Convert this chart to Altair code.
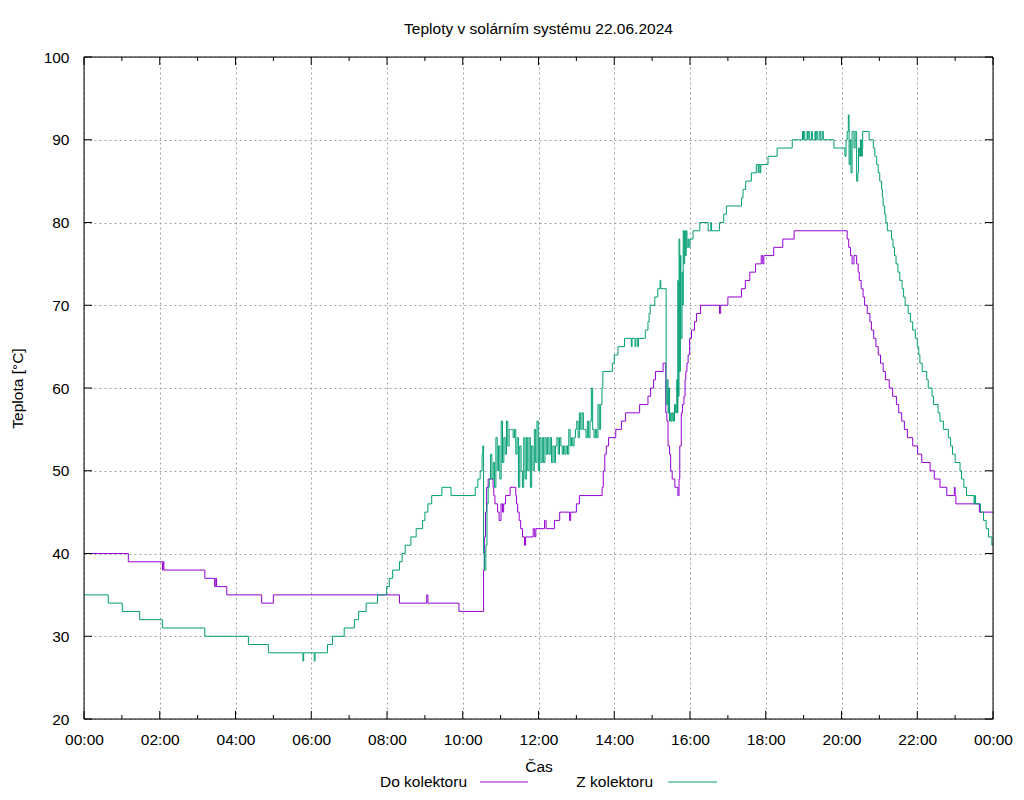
import altair as alt
import pandas as pd

title_text = "Teploty v solárním systému 22.06.2024"
y_title = "Teplota [°C]"
x_title = "Čas"
series_names = ["Do kolektoru", "Z kolektoru"]
series_colors = ["#9400d3", "#009e73"]

# Do kolektoru (hours, °C)
do_t = [0.00, 1.17, 2.07, 2.09, 2.11, 3.19, 3.45, 3.48, 3.50, 3.77, 4.69, 5.00, 8.33, 9.05, 9.08, 9.90,
        10.55, 10.57, 10.60, 10.63, 10.67, 10.80, 10.82, 10.85, 10.92, 10.96, 11.01, 11.05, 11.08, 11.13,
        11.25, 11.40, 11.42, 11.45, 11.49, 11.53, 11.58, 11.63, 11.66, 11.86, 11.90, 11.93, 12.16, 12.20,
        12.42, 12.56, 12.82, 12.85, 13.00, 13.08, 13.68, 13.71, 13.75, 13.79, 13.85, 14.04, 14.19, 14.30,
        14.67, 14.89, 14.96, 15.04, 15.09, 15.29, 15.36, 15.39, 15.42, 15.46, 15.49, 15.53, 15.60, 15.68,
        15.71, 15.73, 15.77, 15.80, 15.84, 15.87, 15.89, 15.92, 15.95, 15.99, 16.04, 16.12, 16.17, 16.28,
        16.78, 16.81, 17.00, 17.36, 17.46, 17.58, 17.73, 17.88, 17.92, 17.95, 18.21, 18.45, 18.75, 20.15,
        20.19, 20.24, 20.28, 20.33, 20.40, 20.44, 20.47, 20.52, 20.57, 20.61, 20.68, 20.75, 20.79, 20.85,
        20.91, 20.97, 21.03, 21.10, 21.16, 21.26, 21.35, 21.45, 21.51, 21.59, 21.66, 21.74, 21.88, 22.01,
        22.12, 22.34, 22.45, 22.60, 22.78, 22.98, 23.00, 23.02, 23.64, 23.92, 24.00]
do_v = [40, 39, 38, 39, 38, 37, 36, 37, 36, 35, 34, 35, 34, 35, 34, 33,
        38, 42, 45, 48, 49, 48, 47, 46, 45, 44, 46, 45, 46, 47,
        48, 47, 46, 45, 44, 43, 42, 41, 42, 43, 42, 43, 44, 43,
        44, 45, 44, 45, 46, 47, 48, 50, 52, 53, 54, 55, 56, 57,
        58, 59, 60, 61, 62, 63, 57, 56, 53, 52, 50, 49, 48, 47,
        49, 53, 57, 58, 59, 61, 62, 63, 64, 66, 67, 68, 69, 70,
        69, 70, 71, 72, 73, 74, 75, 76, 75, 76, 77, 78, 79, 78,
        77, 76, 75, 76, 75, 74, 73, 72, 71, 70, 69, 68, 67, 66,
        65, 64, 63, 62, 61, 60, 59, 58, 57, 56, 55, 54, 53, 52,
        51, 50, 49, 48, 47, 48, 47, 46, 45, 45, 45]

# Z kolektoru (hours, °C)
z_t = [0.00, 0.64, 1.01, 1.47, 2.07, 3.19, 4.34, 4.87, 5.78, 5.80, 6.08, 6.10, 6.43, 6.56, 6.87, 7.14,
       7.25, 7.45, 7.75, 7.99, 8.06, 8.15, 8.33, 8.40, 8.48, 8.63, 8.77, 8.94, 9.00, 9.08, 9.18, 9.45,
       9.69, 10.33, 10.40, 10.46, 10.51, 10.53, 10.55, 10.57, 10.61, 10.64, 10.67,
       10.70, 10.735, 10.77, 10.805, 10.84, 10.875, 10.91, 10.945, 10.98, 11.015,
       11.05, 11.085, 11.12, 11.155, 11.19, 11.225, 11.26, 11.295, 11.33, 11.365,
       11.40, 11.435, 11.47, 11.505, 11.54, 11.575, 11.61, 11.645, 11.68, 11.715,
       11.75, 11.785, 11.82, 11.855, 11.89, 11.925, 11.96, 11.995, 12.03, 12.065,
       12.10, 12.135, 12.17, 12.205, 12.24, 12.275, 12.31, 12.345, 12.38, 12.415,
       12.45, 12.485, 12.52, 12.555, 12.59, 12.625, 12.66, 12.695, 12.73, 12.765,
       12.80, 12.835, 12.87, 12.905, 12.94, 12.975, 13.01, 13.045, 13.08, 13.115,
       13.15, 13.185, 13.22, 13.255, 13.29, 13.325, 13.36, 13.395, 13.43, 13.465,
       13.50, 13.535, 13.57, 13.605, 13.64, 13.675,
       13.70, 13.95, 14.00, 14.10, 14.27, 14.45, 14.47, 14.55, 14.57, 14.62, 14.64, 14.82, 14.89, 14.92,
       14.95, 15.07, 15.15, 15.21, 15.23, 15.37, 15.40, 15.42, 15.44, 15.46, 15.48, 15.50, 15.53, 15.56,
       15.59, 15.62, 15.65, 15.67, 15.68, 15.69, 15.71, 15.73, 15.745, 15.76, 15.79, 15.81, 15.82, 15.84,
       15.86, 15.875, 15.90, 15.92, 15.95, 15.97, 16.00, 16.08, 16.26, 16.48, 16.55, 16.57, 16.78, 16.89,
       16.96, 17.36, 17.40, 17.47, 17.62, 17.75, 17.80, 17.82, 17.85, 17.87, 18.06, 18.30, 18.70,
       18.97, 18.99, 19.00, 19.03, 19.09, 19.11, 19.12, 19.16, 19.21, 19.23, 19.25, 19.30, 19.32, 19.33,
       19.36, 19.41, 19.45, 19.49, 19.52, 19.80, 20.09, 20.12, 20.15, 20.18, 20.20, 20.23, 20.25, 20.28,
       20.33, 20.36, 20.40, 20.43, 20.45, 20.48, 20.50, 20.53, 20.55, 20.56, 20.73, 20.84, 20.88, 20.93,
       20.97, 21.01, 21.06, 21.08, 21.10, 21.14, 21.17, 21.21, 21.32, 21.36, 21.40, 21.44, 21.49, 21.54,
       21.60, 21.64, 21.68, 21.76, 21.82, 21.88, 21.95, 22.00, 22.04, 22.07, 22.13, 22.25, 22.29, 22.39,
       22.43, 22.55, 22.60, 22.69, 22.82, 22.88, 22.93, 23.00, 23.13, 23.17, 23.23, 23.30, 23.50, 23.52,
       23.54, 23.67, 23.75, 23.82, 23.88, 23.97, 24.00]
z_v = [35, 34, 33, 32, 31, 30, 29, 28, 27, 28, 27, 28, 29, 30, 31, 32,
       33, 34, 35, 36, 37, 38, 39, 40, 41, 42, 43, 44, 45, 46, 47, 48,
       47, 48, 49, 50, 52, 53, 40, 38, 41, 46, 48,
       49, 52, 49, 51, 48, 54, 50, 53, 49, 56,
       51, 54, 52, 56, 53, 55, 55, 55, 54, 55,
       52, 54, 48, 53, 50, 48, 54, 49, 54, 50,
       54, 48, 53, 50, 55, 51, 56, 50, 54, 51,
       54, 51, 54, 52, 54, 52, 54, 51, 53, 51,
       53, 54, 52, 54, 53, 52, 53, 52, 53, 52,
       55, 53, 54, 53, 54, 55, 56, 54, 57, 55,
       57, 55, 55, 54, 56, 54, 56, 60, 55, 54,
       55, 54, 58, 55, 58, 60,
       62, 63, 64, 65, 66, 65, 66, 65, 66, 65, 66, 67, 68, 69,
       70, 71, 72, 73, 72, 58, 61, 57, 60, 56, 57, 56, 57, 56,
       58, 57, 61, 57, 73, 59, 78, 62, 76, 66, 74, 70, 79, 75,
       79, 76, 79, 77, 78, 77, 78, 79, 80, 79, 80, 79, 80, 81,
       82, 83, 84, 85, 86, 87, 86, 87, 86, 87, 88, 89, 90,
       91, 90, 91, 90, 91, 90, 91, 90, 91, 90, 90, 91, 90, 91,
       90, 91, 90, 91, 90, 89, 88, 90, 91, 93, 87, 90, 86, 91,
       89, 91, 85, 86, 89, 88, 90, 88, 89, 91, 90, 89, 88, 87,
       86, 85, 84, 83, 82, 81, 80, 79, 78, 77, 76, 75, 74, 73,
       72, 71, 70, 69, 68, 67, 66, 65, 64, 63, 62, 61, 60, 59,
       58, 57, 56, 55, 54, 53, 52, 51, 50, 49, 48, 47, 46, 47,
       46, 45, 44, 43, 42, 41, 41]

x_major = [0, 2, 4, 6, 8, 10, 12, 14, 16, 18, 20, 22, 24]
x_minor = [1, 3, 5, 7, 9, 11, 13, 15, 17, 19, 21, 23]
y_ticks = [20, 30, 40, 50, 60, 70, 80, 90, 100]

W, H = 909, 662
FONT = "Liberation Sans"
FS = 15.5
GRID = "#a0a0a0"

xscale = alt.Scale(domain=[0, 24], nice=False, zero=False)
yscale = alt.Scale(domain=[20, 100], nice=False, zero=False)

x_axis = alt.Axis(values=x_major, grid=True, gridColor=GRID, gridDash=[2, 3], gridWidth=1,
                  ticks=False, tickSize=0, domain=False, labelPadding=13, labelFont=FONT,
                  labelFontSize=FS, labelColor="black", labelFlush=False, labelOverlap=False,
                  labelExpr="(datum.value % 24 < 10 ? '0' : '') + (datum.value % 24) + ':00'",
                  title=x_title, titleFont=FONT, titleFontSize=FS, titleFontWeight="normal",
                  titleColor="black", titleX=W / 2, titleY=52, titleBaseline="alphabetic",
                  titleAlign="center")
y_axis = alt.Axis(values=y_ticks, grid=True, gridColor=GRID, gridDash=[2, 3], gridWidth=1,
                  ticks=False, tickSize=0, domain=False, labelPadding=15, labelFont=FONT,
                  labelFontSize=FS, labelColor="black", labelFlush=False,
                  title=y_title, titleFont=FONT, titleFontSize=FS, titleFontWeight="normal",
                  titleColor="black", titleX=-67, titleY=H / 2, titleAngle=270,
                  titleBaseline="middle", titleAlign="center")

X = lambda f: alt.X(f, scale=xscale, axis=x_axis)
Y = lambda f: alt.Y(f, scale=yscale, axis=y_axis)

layers = []
series_t = [do_t, z_t]
series_v = [do_v, z_v]
for i, (name, color) in enumerate(zip(series_names, series_colors)):
    df = pd.DataFrame({"t": series_t[i], "v": series_v[i], "series": name})
    layers.append(
        alt.Chart(df).mark_line(interpolate="step-after", strokeWidth=1, color=color).encode(
            x=X("t:Q"), y=Y("v:Q"))
    )

# inward ticks (gnuplot style) on all four borders
maj = pd.DataFrame({"t": x_major})
mnr = pd.DataFrame({"t": x_minor})
yt = pd.DataFrame({"v": y_ticks})
tick_style = dict(color="black", strokeWidth=1)
layers += [
    alt.Chart(maj).mark_rule(**tick_style).encode(x=X("t:Q"), y=alt.value(H), y2=alt.value(H - 8)),
    alt.Chart(maj).mark_rule(**tick_style).encode(x=X("t:Q"), y=alt.value(0), y2=alt.value(8)),
    alt.Chart(mnr).mark_rule(**tick_style).encode(x=X("t:Q"), y=alt.value(H), y2=alt.value(H - 4)),
    alt.Chart(mnr).mark_rule(**tick_style).encode(x=X("t:Q"), y=alt.value(0), y2=alt.value(4)),
    alt.Chart(yt).mark_rule(**tick_style).encode(y=Y("v:Q"), x=alt.value(0), x2=alt.value(8)),
    alt.Chart(yt).mark_rule(**tick_style).encode(y=Y("v:Q"), x=alt.value(W), x2=alt.value(W - 8)),
]

# frame
frame = alt.Chart(pd.DataFrame({"f": [0]})).mark_rect(fillOpacity=0, stroke="black", strokeWidth=1).encode(
    x=alt.value(0), x2=alt.value(W), y=alt.value(0), y2=alt.value(H))
layers.append(frame)

# gnuplot-style legend below the plot: label then line sample
legend_text_x = [383, 569]
legend_line_x = [(396, 444), (584, 633)]
for name, color, tx, (lx1, lx2) in zip(series_names, series_colors, legend_text_x, legend_line_x):
    ldf = pd.DataFrame({"series": [name]})
    layers.append(alt.Chart(ldf).mark_text(align="right", baseline="alphabetic", font=FONT, fontSize=FS,
                                           color="black").encode(
        text="series:N", x=alt.value(tx), y=alt.value(730)))
    layers.append(alt.Chart(ldf).mark_rule(color=color, strokeWidth=1).encode(
        x=alt.value(lx1), x2=alt.value(lx2), y=alt.value(725)))

chart = alt.layer(*layers).properties(
    width=W, height=H,
    title=alt.TitleParams(text=title_text, font=FONT, fontSize=FS, fontWeight="normal", color="black",
                          anchor="middle", frame="group", offset=1, baseline="alphabetic"),
    padding={"left": 84, "top": 57, "right": 31, "bottom": 81},
    autosize=alt.AutoSizeParams(type="none"),
).configure_view(stroke="black", strokeWidth=1).configure(background="white")

chart.save("out.html", embed_options={"renderer": "svg", "actions": False})
